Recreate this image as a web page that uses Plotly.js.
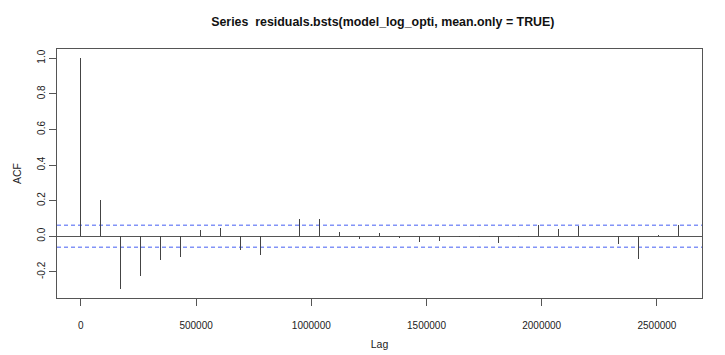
<!DOCTYPE html>
<html>
<head>
<meta charset="utf-8">
<script src="https://cdn.plot.ly/plotly-3.0.1.min.js"></script>
<style>html,body{margin:0;padding:0;background:#fff;}#chart{width:725px;height:355px;}
#chart .scatterlayer .trace:not(:first-child) path{shape-rendering:crispEdges;}</style>
</head>
<body>
<div id="chart"></div>
<script>
// Lag step in seconds (1 day)
const lagStep = 86400;
const lagIndex = [0,1,2,3,4,5,6,7,8,9,10,11,12,13,14,15,16,17,18,19,20,21,22,23,24,25,26,27,28,29,30];
const acfValues = [1.0, 0.203, -0.295, -0.221, -0.134, -0.115, 0.036, 0.048, -0.075, -0.107,
  0.003, 0.096, 0.097, 0.024, -0.014, 0.018, -0.007, -0.031, -0.028, -0.003,
  -0.003, -0.037, -0.003, 0.061, 0.042, 0.058, 0.001, -0.045, -0.130, 0.009, 0.063];
const ciLevel = 0.062;
const xTickVals = [0, 500000, 1000000, 1500000, 2000000, 2500000];
const yTickVals = [-0.2, 0.0, 0.2, 0.4, 0.6, 0.8, 1.0];
const yTickText = ["-0.2", "0.0", "0.2", "0.4", "0.6", "0.8", "1.0"];

const lags = lagIndex.map(i => i * lagStep);

// vertical spikes
const sx = [], sy = [];
lags.forEach((l, i) => { sx.push(l, l, null); sy.push(0, acfValues[i], null); });

const xmin = Math.min(...lags), xmax = Math.max(...lags);
const xpad = (xmax - xmin) * 0.04;
const ymin = Math.min(...acfValues, -ciLevel), ymax = Math.max(...acfValues, ciLevel);
const ypad = (ymax - ymin) * 0.04;
const xr = [xmin - xpad, xmax + xpad];

const ciColor = '#8293f7';
const traces = [
  {x: [xr[0], xr[1], null, xr[0], xr[1]], y: [-ciLevel, -ciLevel, null, ciLevel, ciLevel], mode: 'lines', type: 'scatter', line: {color: ciColor, width: 1.5, dash: '4px,3px'}, hoverinfo: 'skip', showlegend: false},
  {x: xr, y: [0, 0], mode: 'lines', type: 'scatter', line: {color: '#555', width: 1}, hoverinfo: 'skip', showlegend: false},
  {x: sx, y: sy, mode: 'lines', type: 'scatter', line: {color: '#444', width: 1}, hoverinfo: 'skip', showlegend: false}
];

const fontFam = '"Liberation Sans", Arial, Helvetica, sans-serif';
const layout = {
  width: 725, height: 355,
  margin: {l: 57, r: 23, t: 49, b: 57},
  paper_bgcolor: '#fff', plot_bgcolor: '#fff',
  font: {family: fontFam, size: 10, color: '#222'},
  title: {text: '<b>Series  residuals.bsts(model_log_opti, mean.only = TRUE)</b>', font: {family: fontFam, size: 12.4, color: '#111'}, x: 0.528, xanchor: 'center', y: 0.94, yanchor: 'middle'},
  xaxis: {
    range: xr, tickmode: 'array', tickvals: xTickVals, ticktext: xTickVals.map(v => String(v)),
    showgrid: false, zeroline: false, showline: true, mirror: true, linecolor: '#555', linewidth: 1,
    ticks: 'outside', ticklen: 7, tickcolor: '#555', tickfont: {size: 10, color: '#222'},
    ticklabelstandoff: 11,
    title: {text: 'Lag', font: {size: 10.5, color: '#222'}, standoff: 10}
  },
  yaxis: {
    range: [ymin - ypad, ymax + ypad], tickmode: 'array', tickvals: yTickVals, ticktext: yTickText,
    tickangle: -90, showgrid: false, zeroline: false, showline: true, mirror: true, linecolor: '#555', linewidth: 1,
    ticks: 'outside', ticklen: 7, tickcolor: '#555', tickfont: {size: 10, color: '#222'},
    title: {text: 'ACF', font: {size: 10.5, color: '#222'}, standoff: 12}
  }
};

Plotly.newPlot('chart', traces, layout, {staticPlot: true, displayModeBar: false});
</script>
</body>
</html>
